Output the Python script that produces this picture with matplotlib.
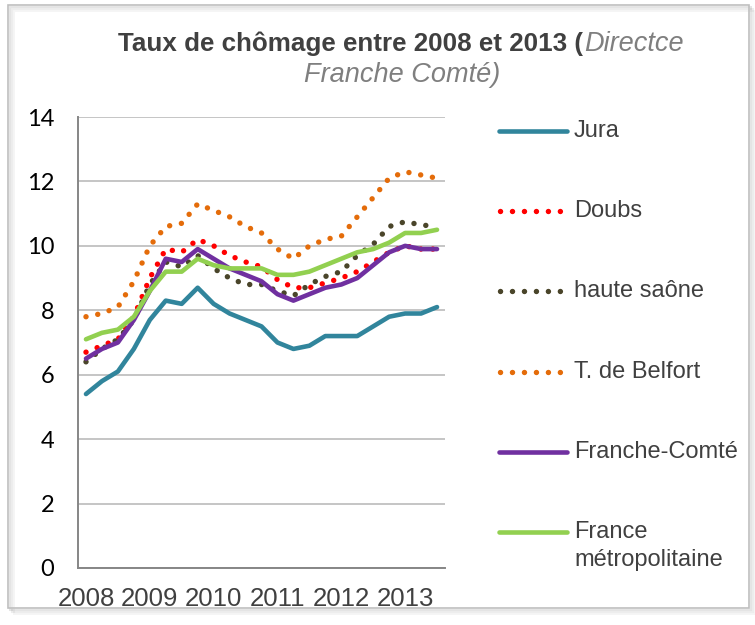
import numpy as np
import matplotlib
matplotlib.use("Agg")
import matplotlib.pyplot as plt
from matplotlib.lines import Line2D
from matplotlib.patches import Rectangle

# trimestres 2008 T1 -> 2013 T3
years = ["2008", "2009", "2010", "2011", "2012", "2013"]
jura = [5.4, 5.8, 6.1, 6.8, 7.7, 8.3, 8.2, 8.7, 8.2, 7.9, 7.7, 7.5,
        7.0, 6.8, 6.9, 7.2, 7.2, 7.2, 7.5, 7.8, 7.9, 7.9, 8.1]
doubs = [6.7, 6.9, 7.1, 7.8, 9.0, 9.9, 9.8, 10.2, 10.0, 9.7, 9.5, 9.35,
         8.95, 8.7, 8.7, 8.85, 9.0, 9.2, 9.5, 9.8, 10.0, 9.9, 9.9]
haute_saone = [6.4, 6.8, 7.1, 7.7, 8.8, 9.5, 9.35, 9.7, 9.3, 9.0, 8.8, 8.8,
               8.6, 8.45, 8.8, 9.05, 9.2, 9.7, 10.05, 10.6, 10.75, 10.65, 10.6]
belfort = [7.8, 7.9, 8.1, 8.9, 10.0, 10.6, 10.7, 11.3, 11.1, 10.9, 10.6, 10.4,
           9.9, 9.6, 10.0, 10.2, 10.3, 10.9, 11.5, 12.1, 12.3, 12.2, 12.1]
franche_comte = [6.5, 6.8, 7.0, 7.7, 8.6, 9.6, 9.5, 9.9, 9.6, 9.3, 9.1, 8.9,
                 8.5, 8.3, 8.5, 8.7, 8.8, 9.0, 9.4, 9.8, 10.0, 9.9, 9.9]
france = [7.1, 7.3, 7.4, 7.8, 8.6, 9.2, 9.2, 9.6, 9.4, 9.3, 9.3, 9.3,
          9.1, 9.1, 9.2, 9.4, 9.6, 9.8, 9.9, 10.1, 10.4, 10.4, 10.5]

labels = ["Jura", "Doubs", "haute saône", "T. de Belfort",
          "Franche-Comté", "France\nmétropolitaine"]
colors = ["#31859C", "#FF0000", "#4A452A", "#E46C0A", "#7030A0", "#92D050"]
dotted = [False, True, True, True, False, False]
series = [jura, doubs, haute_saone, belfort, franche_comte, france]

W, H = 755, 625
fig = plt.figure(figsize=(W / 100, H / 100), dpi=100)
ax = fig.add_axes([78 / W, 1 - 568 / H, (445 - 78) / W, (568 - 117) / H])

dot_style = (0, (0.01, 2.2))
x = np.arange(len(jura))
for s, c, d in zip(series, colors, dotted):
    if d:
        ax.plot(x, s, color=c, lw=3.9, linestyle=dot_style,
                dash_capstyle="round", solid_capstyle="round")
    else:
        ax.plot(x, s, color=c, lw=3.3, solid_capstyle="round",
                solid_joinstyle="round")

ax.set_xlim(-0.5, len(x) - 0.5)
ax.set_ylim(0, 14)
ax.set_yticks(range(0, 15, 2))
ax.set_xticks(range(0, len(x), 4))
ax.set_xticklabels(years, fontsize=18.5, color="#404040",
                   family="Liberation Sans")
for t in ax.get_yticklabels():
    t.set_fontsize(17)
    t.set_family("Lato")
    t.set_color("black")
ax.tick_params(axis="both", length=0)
ax.tick_params(axis="y", pad=17)
ax.tick_params(axis="x", pad=14)
ax.grid(axis="y", color="#C0C0C0", lw=1.3)
ax.set_axisbelow(True)
for side in ["top", "right"]:
    ax.spines[side].set_visible(False)
for side in ["left", "bottom"]:
    ax.spines[side].set_color("#868686")
    ax.spines[side].set_linewidth(1.4)

# légende
rows_y = [131, 211, 291, 372, 452, 532]
for lab, c, d, yy in zip(labels, colors, dotted, rows_y):
    fy = 1 - yy / H
    if d:
        ln = Line2D([500 / W, 566 / W], [fy, fy], color=c, lw=3.9,
                    linestyle=dot_style, dash_capstyle="round")
    else:
        ln = Line2D([499 / W, 567 / W], [fy, fy], color=c, lw=3.3,
                    solid_capstyle="round")
    fig.add_artist(ln)
    first, *rest = lab.split("\n")
    fig.text(574 / W, fy, first, fontsize=17, color="#404040",
             family="Liberation Sans", va="center", ha="left")
    if rest:
        fig.text(574 / W, 1 - (yy + 28) / H, rest[0], fontsize=17,
                 color="#404040", family="Liberation Sans",
                 va="center", ha="left")

# titre
fig.canvas.draw()
r = fig.canvas.get_renderer()
t1 = fig.text(118 / W, 1 - 51 / H, "Taux de chômage entre 2008 et 2013 (",
              fontsize=18.7, fontweight="bold", color="#404040",
              family="Liberation Sans", va="baseline", ha="left")
bb = t1.get_window_extent(r)
fig.text(bb.x1 / W + 1 / W, 1 - 51 / H, "Directce", fontsize=19.5,
         style="italic", color="#7F7F7F", family="Liberation Sans",
         va="baseline", ha="left")
fig.text(402 / W, 1 - 81.5 / H, "Franche Comté)", fontsize=19.5,
         style="italic", color="#7F7F7F", family="Liberation Sans",
         va="baseline", ha="center")

# cadre avec ombre
for k, a in enumerate([0.10, 0.07, 0.04]):
    fig.add_artist(Rectangle(((10 + 2 * k) / W, 1 - (610 + 2 * k) / H),
                             741 / W, 603 / H, transform=fig.transFigure,
                             facecolor="none", edgecolor="black",
                             lw=1.5, alpha=a))
fig.add_artist(Rectangle((8 / W, 1 - 608 / H), 741 / W, 603 / H,
                         transform=fig.transFigure, facecolor="none",
                         edgecolor="#BFBFBF", lw=1.2))

fig.savefig("out.png", dpi=100)
